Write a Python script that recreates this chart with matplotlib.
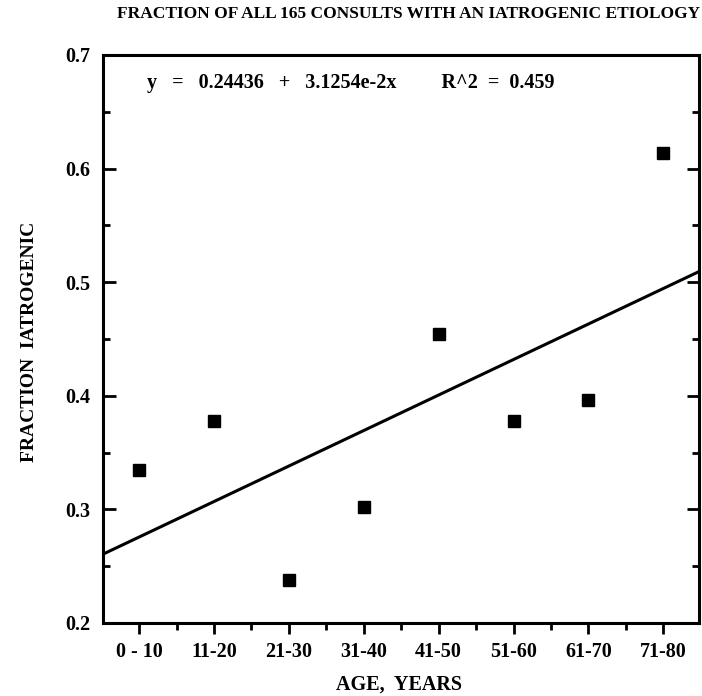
import numpy as np
import matplotlib
matplotlib.use("Agg")
import matplotlib.pyplot as plt
from matplotlib.ticker import MultipleLocator

plt.rcParams['font.family'] = ['Liberation Serif', 'DejaVu Serif']
plt.rcParams['font.weight'] = 'bold'

# данные
age_groups = ["0 - 10", "11-20", "21-30", "31-40", "41-50", "51-60", "61-70", "71-80"]
fraction = [0.335, 0.378, 0.238, 0.302, 0.454, 0.378, 0.396, 0.614]
intercept = 0.24436
slope = 3.1254e-2
r2 = 0.459

x = np.arange(1, len(age_groups) + 1)

fig = plt.figure(figsize=(7.02, 6.96), dpi=100)
ax = fig.add_axes([0.147, 0.105, 0.849, 0.816])

ax.plot(x, fraction, 's', color='black', markersize=8.5)

xl = np.array([0.52, 8.48])
ax.plot(xl, intercept + slope * xl, '-', color='black', lw=2.2)

ax.set_xlim(0.52, 8.48)
ax.set_ylim(0.2, 0.7)
ax.set_xticks(x)
ax.set_xticklabels(age_groups)
ax.xaxis.set_minor_locator(MultipleLocator(1, offset=0.5))
ax.yaxis.set_major_locator(MultipleLocator(0.1))
ax.yaxis.set_minor_locator(MultipleLocator(0.05))

for s in ax.spines.values():
    s.set_linewidth(2.2)

ax.tick_params(axis='x', which='major', direction='out', length=8, width=2, labelsize=14.5, pad=6)
ax.tick_params(axis='x', which='minor', direction='out', length=5, width=2)
ax.tick_params(axis='y', which='major', direction='in', length=9, width=2, labelsize=14.5,
               right=True, pad=9)
ax.tick_params(axis='y', which='minor', direction='in', length=5, width=2, right=True)

ax.text(0.074, 0.95, "y   =   0.24436   +   3.1254e-2x         R^2  =  %.3f" % r2,
        transform=ax.transAxes, fontsize=14.5, fontweight='bold', va='center')

fig.text(399 / 702, 1 - 685 / 696, "AGE,  YEARS", ha='center', va='center',
         fontsize=14.5, fontweight='bold')
fig.text(30 / 702, 1 - 342 / 696, "FRACTION  IATROGENIC", ha='center', va='center',
         rotation=90, fontsize=14, fontweight='bold')
fig.text(409 / 702, 1 - 14 / 696, "FRACTION OF ALL 165 CONSULTS WITH AN IATROGENIC ETIOLOGY",
         ha='center', va='center', fontsize=12.5, fontweight='bold')

fig.savefig("out.png", dpi=100)
